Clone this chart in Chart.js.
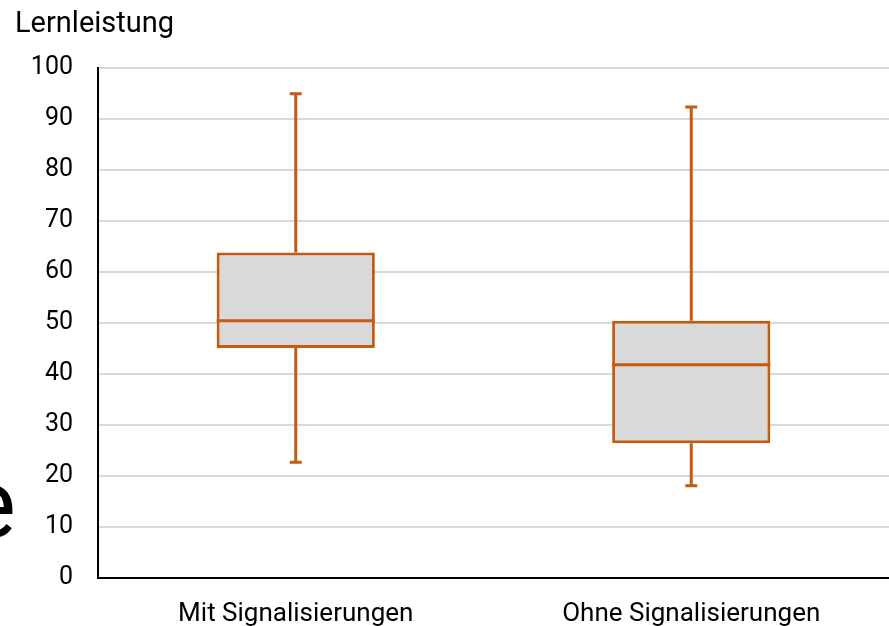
<!DOCTYPE html>
<html><head><meta charset="utf-8">
<script src="https://cdn.jsdelivr.net/npm/chart.js@4"></script>
<style>
html,body{margin:0;padding:0;background:#fff;}
#wrap{position:relative;width:889px;height:626px;overflow:hidden;}
#side{position:absolute;left:-35px;top:456px;font-family:Roboto;font-size:96px;line-height:1;color:#000;}
</style></head>
<body><div id="wrap"><canvas id="c" width="889" height="626"></canvas><div id="side">e</div></div>
<script>
const categories = ['Mit Signalisierungen', 'Ohne Signalisierungen'];
const minimums = [22.7, 18.1];
const quartile1 = [45.1, 26.4];
const medians = [50.4, 41.8];
const quartile3 = [63.8, 50.4];
const maximums = [94.9, 92.3];
const yTicks = [0, 10, 20, 30, 40, 50, 60, 70, 80, 90, 100];

const boxColor = '#c55a11';

const whiskerPlugin = {
  id: 'whiskers',
  afterDatasetsDraw(chart) {
    const ctx = chart.ctx;
    const y = chart.scales.y;
    const meta = chart.getDatasetMeta(0);
    ctx.save();
    ctx.strokeStyle = boxColor;
    ctx.lineWidth = 3;
    meta.data.forEach((bar, i) => {
      const x = bar.x;
      const half = bar.width / 2;
      const pMin = y.getPixelForValue(minimums[i]);
      const pMax = y.getPixelForValue(maximums[i]);
      const pQ1 = y.getPixelForValue(quartile1[i]);
      const pQ3 = y.getPixelForValue(quartile3[i]);
      const pMed = y.getPixelForValue(medians[i]);
      ctx.beginPath();
      ctx.moveTo(x, pQ3); ctx.lineTo(x, pMax);
      ctx.moveTo(x - 6, pMax); ctx.lineTo(x + 6, pMax);
      ctx.moveTo(x, pQ1); ctx.lineTo(x, pMin);
      ctx.moveTo(x - 6, pMin); ctx.lineTo(x + 6, pMin);
      ctx.moveTo(x - half, pMed); ctx.lineTo(x + half, pMed);
      ctx.stroke();
    });
    ctx.restore();
  }
};

new Chart(document.getElementById('c'), {
  type: 'bar',
  data: {
    labels: categories,
    datasets: [{
      data: categories.map((c, i) => [quartile1[i], quartile3[i]]),
      backgroundColor: '#d9d9d9',
      borderColor: boxColor,
      borderWidth: 3,
      borderSkipped: false,
      barPercentage: 0.4,
      categoryPercentage: 1.0
    }]
  },
  options: {
    responsive: false,
    animation: false,
    layout: { padding: { left: 15, right: 0, top: 0, bottom: 0 } },
    plugins: {
      legend: { display: false },
      tooltip: { enabled: false },
      title: {
        display: true,
        text: 'Lernleistung',
        align: 'start',
        color: '#000',
        font: { family: 'Roboto', size: 29, weight: 'normal' },
        padding: { top: 7, bottom: 26 }
      }
    },
    scales: {
      x: {
        grid: { display: false },
        border: { display: true, color: '#000', width: 2 },
        ticks: { color: '#000', font: { family: 'Roboto', size: 26 }, padding: 13 },
        afterFit(s) { s.height = 48; }
      },
      y: {
        min: 0, max: 100,
        afterBuildTicks(s) { s.ticks = yTicks.map(v => ({ value: v })); },
        grid: { color: '#d9d9d9', lineWidth: 2, drawTicks: false },
        border: { display: true, color: '#000', width: 2 },
        ticks: { color: '#000', font: { family: 'Roboto', size: 25 }, padding: 25 },
        afterFit(s) { s.width = 83; }
      }
    }
  },
  plugins: [whiskerPlugin]
});
</script></body></html>
